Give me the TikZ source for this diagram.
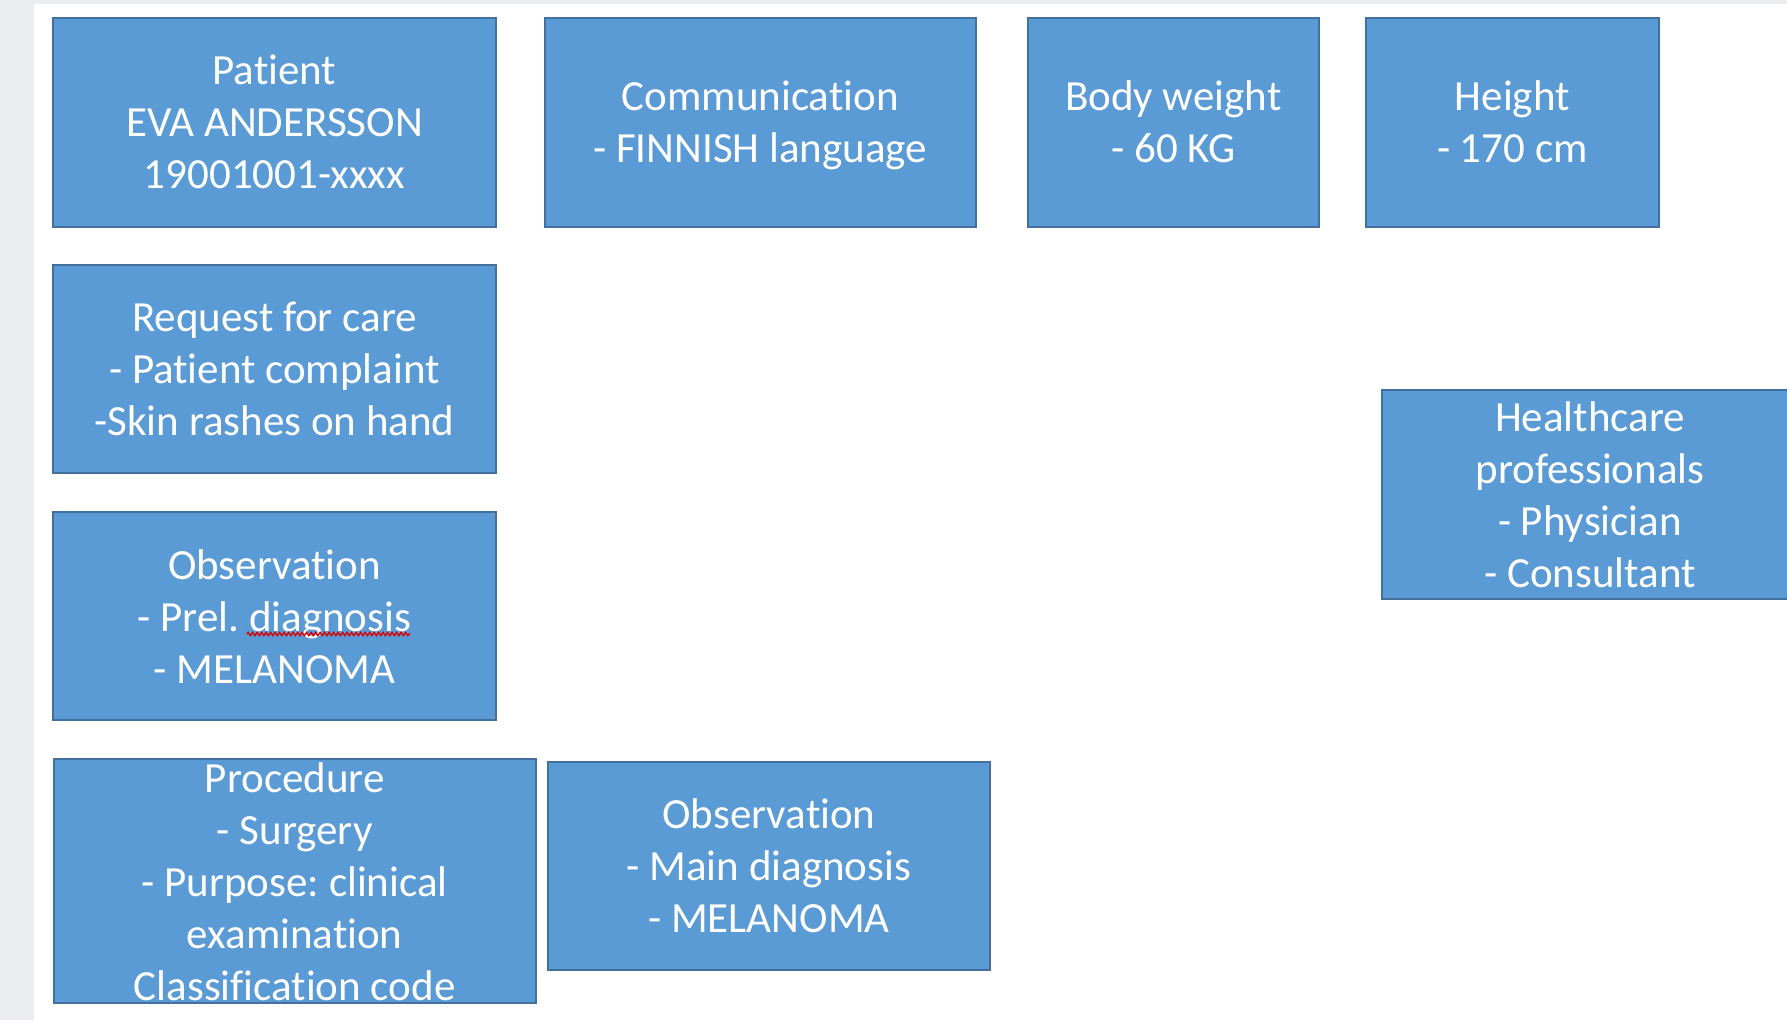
\documentclass[tikz,border=0pt]{standalone}
\usepackage{fontspec}
\setmainfont{Carlito}[Ligatures=NoCommon]
\usetikzlibrary{decorations.pathmorphing}
\definecolor{boxfill}{HTML}{5B9BD5}
\definecolor{boxline}{HTML}{41719C}
\definecolor{pagegray}{HTML}{ECEDF0}
\frenchspacing
\begin{document}
\begin{tikzpicture}[x=1pt,y=-1pt,
  box/.style={draw=boxline, line width=2pt, fill=boxfill, rectangle, inner sep=0pt, outer sep=0pt},
  txt/.style={text=white, align=center, inner sep=0pt, font=\fontsize{43}{52}\selectfont\frenchspacing}]
\useasboundingbox (0,0) rectangle (1787,1020);
\fill[white] (0,0) rectangle (1787,1020);
\fill[pagegray] (0,0) rectangle (34,1020);
\fill[pagegray] (0,0) rectangle (1787,4);
\begin{scope}
\clip (0,0) rectangle (1787,1020);
% row 1
\node[box, minimum width=443, minimum height=209] (patient) at (274.5,122) {};
\node[txt] (patientT) at (patient.center) {Patient\\EVA ANDERSSON\\19001001-xxxx};
\node[box, minimum width=431, minimum height=209] (comm) at (760.2,122) {};
\node[txt, yshift=-3.5pt] (commT) at (comm.center) {Communication\\- FINNISH language};
\node[box, minimum width=291, minimum height=209] (weight) at (1173.3,122) {};
\node[txt] (weightT) at (weight.center) {Body weight\\- 60 KG};
\node[box, minimum width=293, minimum height=209] (height) at (1512.3,122) {};
\node[txt] (heightT) at (height.center) {Height\\- 170 cm};
% left column
\node[box, minimum width=443, minimum height=208] (request) at (274.5,368.5) {};
\node[txt] (requestT) at (request.center) {Request for care\\- Patient complaint\\-Skin rashes on hand};
\node[box, minimum width=443, minimum height=208] (obs1) at (274.5,616.3) {};
\node[txt] (obs1T) at (obs1.center) {Observation\\- Prel. diagnosis\\- MELANOMA};
\node[box, minimum width=482, minimum height=244] (proc) at (294.7,881.3) {};
\node[txt] (procT) at (proc.center) {Procedure\\- Surgery\\- Purpose: clinical\\examination\\Classification code};
\node[box, minimum width=442, minimum height=208] (obs2) at (769,866) {};
\node[txt] (obs2T) at (obs2.center) {Observation\\- Main diagnosis\\- MELANOMA};
% right
\node[box, minimum width=417, minimum height=209] (hcp) at (1590,494.3) {};
\node[txt] (hcpT) at (hcp.center) {Healthcare\\professionals\\- Physician\\- Consultant};
\end{scope}
% spell-check squiggle
\coordinate (sqA) at (247,634);
\coordinate (sqB) at (410,634);
\draw[red!85!black, line width=1.3pt, decorate, decoration={zigzag, amplitude=1.7pt, segment length=4.5pt}] (sqA) -- (sqB);
\end{tikzpicture}
\end{document}
